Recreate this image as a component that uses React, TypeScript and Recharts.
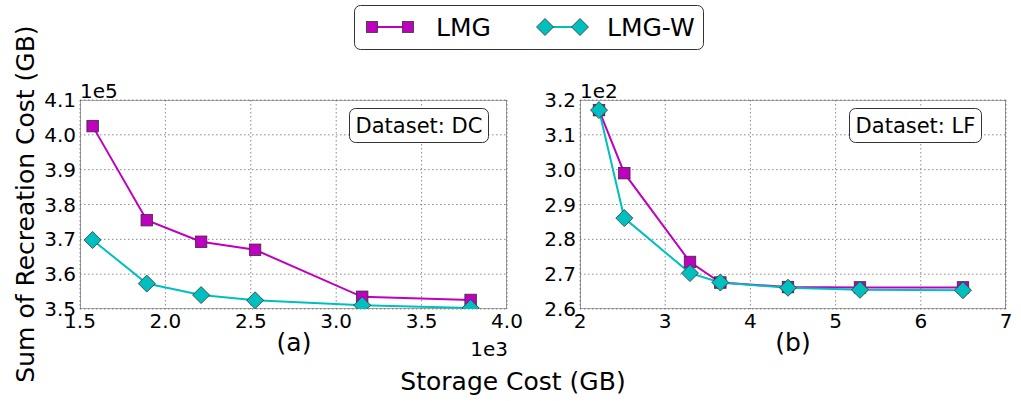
import React from 'react';
import { LineChart, Line, XAxis, YAxis, CartesianGrid, ReferenceArea } from 'recharts';

// Panel (a): Dataset DC  (storage in 1e3 GB, recreation in 1e5 GB)
const storageDC = [1.574, 1.891, 2.209, 2.525, 3.152, 3.787];
const recreationDC_LMG = [4.025, 3.755, 3.693, 3.670, 3.535, 3.526];
const recreationDC_LMGW = [3.698, 3.573, 3.540, 3.525, 3.511, 3.503];
const xTicksDC = [1.5, 2.0, 2.5, 3.0, 3.5, 4.0];
const yTicksDC = [3.5, 3.6, 3.7, 3.8, 3.9, 4.0, 4.1];

// Panel (b): Dataset LF  (storage in GB, recreation in 1e2 GB)
const storageLF = [2.223, 2.520, 3.291, 3.647, 4.441, 5.286, 6.495];
const recreationLF_LMG = [3.171, 2.990, 2.735, 2.676, 2.663, 2.662, 2.662];
const recreationLF_LMGW = [3.171, 2.861, 2.703, 2.676, 2.661, 2.655, 2.654];
const xTicksLF = [2, 3, 4, 5, 6, 7];
const yTicksLF = [2.6, 2.7, 2.8, 2.9, 3.0, 3.1, 3.2];

const seriesNames = ['LMG', 'LMG-W'];

const MAGENTA = '#bf00bf';
const CYAN = '#00bfbf';
const EDGE = '#333333';
const FONT = '"DejaVu Sans", Verdana, sans-serif';

const dataDC = storageDC.map((x, i) => ({ x, lmg: recreationDC_LMG[i], lmgw: recreationDC_LMGW[i] }));
const dataLF = storageLF.map((x, i) => ({ x, lmg: recreationLF_LMG[i], lmgw: recreationLF_LMGW[i] }));

const squareDot = (props: any) => {
  const { cx, cy, index } = props;
  if (cx == null || cy == null) return <g key={`s-${index}`} />;
  const s = 11.5;
  return (
    <rect key={`s-${index}`} x={cx - s / 2} y={cy - s / 2} width={s} height={s}
      fill={MAGENTA} stroke={EDGE} strokeWidth={0.8} />
  );
};

const diamondDot = (props: any) => {
  const { cx, cy, index } = props;
  if (cx == null || cy == null) return <g key={`d-${index}`} />;
  const r = 8.5;
  return (
    <polygon key={`d-${index}`}
      points={`${cx},${cy - r} ${cx + r},${cy} ${cx},${cy + r} ${cx - r},${cy}`}
      fill={CYAN} stroke={EDGE} strokeWidth={0.8} />
  );
};

type PanelProps = {
  data: any[];
  xTicks: number[];
  yTicks: number[];
  xFmt: (v: number) => string;
  width: number;
  rightMargin: number;
};

const Panel = ({ data, xTicks, yTicks, xFmt, width, rightMargin }: PanelProps) => {
  const xd: [number, number] = [xTicks[0], xTicks[xTicks.length - 1]];
  const yd: [number, number] = [yTicks[0], yTicks[yTicks.length - 1]];
  return (
    <LineChart width={width} height={401} data={data}
      margin={{ top: 100, right: rightMargin, left: 0, bottom: 0 }}
      style={{ fontFamily: FONT, overflow: 'visible' }}>
      <CartesianGrid stroke="#8a8a8a" strokeDasharray="1.5 2.5" strokeWidth={1}
        horizontalValues={yTicks} verticalValues={xTicks} />
      <XAxis type="number" dataKey="x" domain={xd} ticks={xTicks} allowDataOverflow
        tickFormatter={xFmt} height={92} tickLine={false} axisLine={false}
        tickSize={0} tickMargin={5}
        tick={{ fill: '#000', fontSize: 20, fontFamily: FONT }} interval={0} />
      <YAxis type="number" domain={yd} ticks={yTicks} allowDataOverflow
        tickFormatter={(v: number) => v.toFixed(1)} width={80} tickLine={false}
        axisLine={false} tickSize={0} tickMargin={4}
        tick={{ fill: '#000', fontSize: 20, fontFamily: FONT }} interval={0} />
      <ReferenceArea x1={xd[0]} x2={xd[1]} y1={yd[0]} y2={yd[1]} fill="none"
        fillOpacity={0} stroke="#555" strokeWidth={1.2} ifOverflow="hidden" />
      <Line type="linear" dataKey="lmg" name={seriesNames[0]} stroke={MAGENTA} strokeWidth={2}
        dot={squareDot} activeDot={false} isAnimationActive={false} />
      <Line type="linear" dataKey="lmgw" name={seriesNames[1]} stroke={CYAN} strokeWidth={2}
        dot={diamondDot} activeDot={false} isAnimationActive={false} />
    </LineChart>
  );
};

const Overlay = () => (
  <svg width={1021} height={401} style={{ position: 'absolute', left: 0, top: 0, pointerEvents: 'none', fontFamily: FONT }}>
    {/* Legend */}
    <rect x={354.5} y={5.5} width={349} height={44} rx={6} ry={6} fill="#fff" stroke="#333" strokeWidth={1} />
    <line x1={372} y1={27} x2={408} y2={27} stroke={MAGENTA} strokeWidth={2} />
    <rect x={366.5} y={21.5} width={11} height={11} fill={MAGENTA} stroke={EDGE} strokeWidth={0.8} />
    <rect x={402.5} y={21.5} width={11} height={11} fill={MAGENTA} stroke={EDGE} strokeWidth={0.8} />
    <text x={436} y={36} fontSize={25} fill="#000">{seriesNames[0]}</text>
    <line x1={545} y1={27} x2={580} y2={27} stroke={CYAN} strokeWidth={2} />
    <polygon points="545,18.5 553.5,27 545,35.5 536.5,27" fill={CYAN} stroke={EDGE} strokeWidth={0.8} />
    <polygon points="580,18.5 588.5,27 580,35.5 571.5,27" fill={CYAN} stroke={EDGE} strokeWidth={0.8} />
    <text x={607} y={36} fontSize={25} fill="#000">{seriesNames[1]}</text>

    {/* Dataset boxes */}
    <rect x={349.5} y={108.5} width={139} height={34} rx={6} ry={6} fill="#fff" stroke="#333" strokeWidth={1} />
    <text x={419} y={133} fontSize={21} textAnchor="middle" fill="#000">Dataset: DC</text>
    <rect x={849.5} y={108.5} width={132} height={34} rx={6} ry={6} fill="#fff" stroke="#333" strokeWidth={1} />
    <text x={915.5} y={133} fontSize={21} textAnchor="middle" fill="#000">Dataset: LF</text>

    {/* Offset texts */}
    <text x={80} y={98} fontSize={20} fill="#000">1e5</text>
    <text x={580} y={98} fontSize={20} fill="#000">1e2</text>
    <text x={508} y={356} fontSize={20} textAnchor="end" fill="#000">1e3</text>

    {/* Panel labels */}
    <text x={294} y={351} fontSize={25} textAnchor="middle" fill="#000">(a)</text>
    <text x={793} y={351} fontSize={25} textAnchor="middle" fill="#000">(b)</text>

    {/* Axis labels */}
    <text x={513} y={390} fontSize={25} textAnchor="middle" fill="#000">Storage Cost (GB)</text>
    <text transform="translate(34,204) rotate(-90)" fontSize={25} textAnchor="middle" fill="#000">Sum of Recreation Cost (GB)</text>
  </svg>
);

export default function App() {
  return (
    <div style={{ position: 'absolute', left: 0, top: 0, width: 1021, height: 401, background: '#fff', overflow: 'hidden' }}>
      <div style={{ position: 'absolute', left: 500, top: 0 }}>
        <Panel data={dataLF} xTicks={xTicksLF} yTicks={yTicksLF}
          xFmt={(v) => String(v)} width={521} rightMargin={15} />
      </div>
      <div style={{ position: 'absolute', left: 0, top: 0 }}>
        <Panel data={dataDC} xTicks={xTicksDC} yTicks={yTicksDC}
          xFmt={(v) => v.toFixed(1)} width={540} rightMargin={33} />
      </div>
      <Overlay />
    </div>
  );
}
